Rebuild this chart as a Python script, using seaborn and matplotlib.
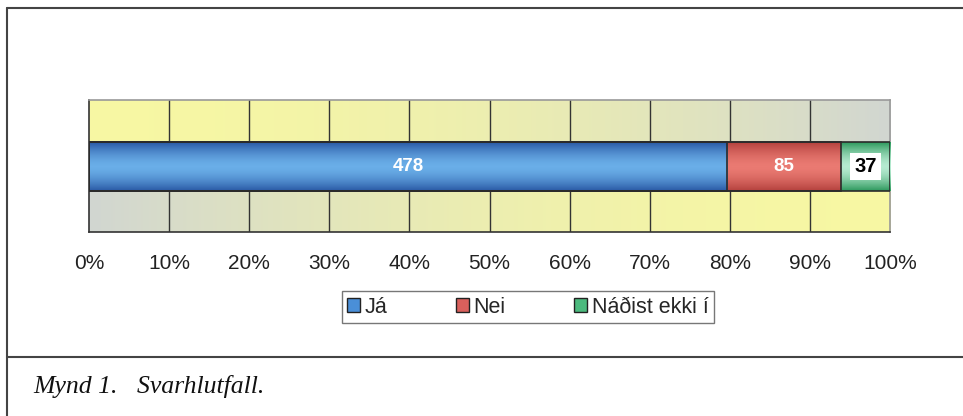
import numpy as np
import pandas as pd
import matplotlib.pyplot as plt
import seaborn as sns
from matplotlib.colors import LinearSegmentedColormap
from matplotlib.lines import Line2D
from matplotlib.patches import Patch, Rectangle

# Chart data (answer counts)
categories = ["Já", "Nei", "Náðist ekki í"]
counts = [478, 85, 37]
colors = ["#4a8fd8", "#d9605c", "#4cba7e"]
edge_shades = ["#2a5aa6", "#b5423e", "#2f9a5e"]
light_shades = ["#6aaee8", "#ea7a72", "#b5ead0"]
label_colors = ["white", "white", "black"]
tick_labels = ["0%", "10%", "20%", "30%", "40%", "50%", "60%", "70%", "80%", "90%", "100%"]
caption = "Mynd 1.   Svarhlutfall."


def main():
    sns.set_style("white")
    plt.rcParams["font.family"] = ["Liberation Sans", "DejaVu Sans"]

    total = sum(counts)
    share = np.array(counts) / total * 100
    df = pd.DataFrame({"category": categories, "count": counts,
                       "share": share, "cum": np.cumsum(share)})
    df["row"] = ""

    fig = plt.figure(figsize=(9.63, 4.16), dpi=100)
    ax = fig.add_axes([0.0924, 0.442, 0.832, 0.317])

    # Yellow / grey background: top half goes yellow->grey, bottom half grey->yellow
    gx, gy = np.meshgrid(np.linspace(0, 1, 300), np.linspace(0, 1, 100))
    f = np.where(gy < 0.5, gx, 1 - gx) ** 1.8
    yellow = np.array([0.97, 0.97, 0.64])
    grey = np.array([0.82, 0.84, 0.82])
    img = yellow[None, None, :] * (1 - f[..., None]) + grey[None, None, :] * f[..., None]
    ax.imshow(img, extent=[0, 100, 0.5, -0.5], aspect="auto", zorder=0)

    # Stacked bar: draw cumulative totals from the largest down
    for k, i in enumerate(reversed(range(len(df)))):
        sub = df.iloc[[i]]
        sns.barplot(data=sub, x="cum", y="row", orient="h", color=colors[i],
                    width=0.37, edgecolor="none", saturation=1, ax=ax)
        patch = ax.patches[-1]
        patch.set_zorder(3 + 2 * k)
        # shaded tube look, clipped to the bar
        t = np.linspace(0, 1, 64)
        prof = 1 - np.abs(2 * t - 1) ** 1.6
        cmap = LinearSegmentedColormap.from_list("s", [edge_shades[i], light_shades[i]])
        x0, y0 = patch.get_x(), patch.get_y()
        im = ax.imshow(prof[:, None], cmap=cmap, aspect="auto", vmin=0, vmax=1,
                       extent=[x0, x0 + patch.get_width(), y0 + patch.get_height(), y0],
                       zorder=4 + 2 * k)
        im.set_clip_path(patch)

    # outlines on top
    for p in list(ax.patches):
        ax.add_patch(Rectangle((p.get_x(), p.get_y()), p.get_width(), p.get_height(),
                               fill=False, ec="#2b2b2b", lw=1.2, zorder=10))

    # Value labels in the middle of each segment
    for i, row in df.iterrows():
        mid = row["cum"] - row["share"] / 2
        kw = dict(ha="center", va="center", fontweight="bold",
                  color=label_colors[i], zorder=11, fontsize=13.5)
        if i == 2:
            kw["fontsize"] = 14.5
            kw["bbox"] = dict(boxstyle="square,pad=0.2", fc="white", ec="none")
        ax.text(mid, 0, f"{row['count']}", **kw)

    ax.set_xlim(0, 100)
    ax.set_ylim(0.5, -0.5)
    ax.set_xticks(np.arange(0, 101, 10))
    ax.set_xticklabels(tick_labels, fontsize=15, color="#222222")
    ax.set_yticks([])
    ax.set_xlabel("")
    ax.set_ylabel("")
    ax.tick_params(axis="x", length=6, width=1, color="#333333", pad=10, direction="out")
    for x in range(10, 100, 10):
        ax.axvline(x, color="#333333", lw=1, zorder=1)
    for side, sp in ax.spines.items():
        sp.set_visible(True)
        sp.set_linewidth(1.2)
        sp.set_color("#333333" if side in ("left", "bottom") else "#999999")

    # Legend under the axis
    handles = [Patch(facecolor=c, edgecolor="#222222", linewidth=1) for c in colors]
    leg = fig.legend(handles, categories, loc="center", bbox_to_anchor=(0.548, 0.262),
                     ncol=3, frameon=True, fancybox=False, fontsize=15.5,
                     handlelength=0.6, handleheight=0.6, handletextpad=0.2,
                     columnspacing=3.2, borderpad=0.25, borderaxespad=0)
    leg.get_frame().set_edgecolor("#555555")
    leg.get_frame().set_linewidth(1)

    # Page frame and caption
    W, H = 963, 416
    fx = lambda px: px / W
    fy = lambda py: 1 - py / H
    frame_kw = dict(color="#444444", lw=1.5)
    fig.add_artist(Line2D([fx(7), fx(7)], [fy(8), 0], **frame_kw))
    fig.add_artist(Line2D([fx(7), 1], [fy(8), fy(8)], **frame_kw))
    fig.add_artist(Line2D([fx(7), 1], [fy(357), fy(357)], **frame_kw))
    fig.text(fx(33), fy(386), caption, fontsize=18.5, style="italic",
             family="Liberation Serif", va="center", ha="left", color="#111111")

    plt.savefig("out.png", dpi=100)


if __name__ == "__main__":
    main()
